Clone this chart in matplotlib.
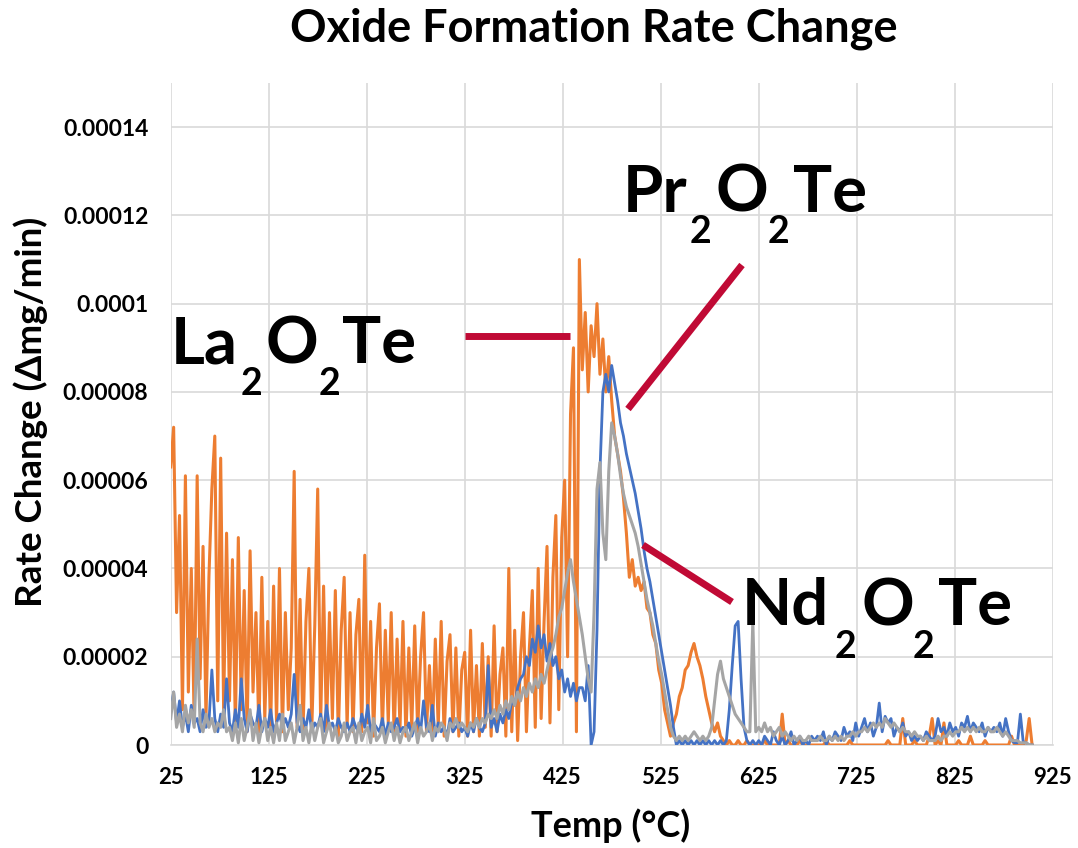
import numpy as np
import matplotlib
matplotlib.use('Agg')
import matplotlib.pyplot as plt
from matplotlib.lines import Line2D

plt.rcParams['font.family'] = ['Lato', 'DejaVu Sans']
plt.rcParams['font.weight'] = 'bold'

W, H = 1078, 848

# temperature of each reading (deg C), one every 3 degrees
temps = np.arange(25, 905, 3)

# rate change readings, in units of 1e-6 mg/min
la_rate = [
    63, 72, 30, 52, 8, 61, 12, 40, 5, 61, 15, 45, 6, 38, 58, 70, 10, 65, 8, 48,
    10, 42, 4, 47, 8, 35, 3, 44, 12, 30, 3, 38, 6, 28, 4, 36, 5, 40, 3, 30,
    8, 22, 62, 4, 33, 3, 28, 40, 4, 27, 58, 5, 36, 3, 30, 6, 35, 2, 26, 38,
    4, 30, 3, 25, 33, 3, 43, 5, 28, 2, 22, 32, 3, 26, 5, 30, 2, 24, 4, 28,
    2, 22, 4, 27, 3, 20, 30, 3, 18, 2, 24, 4, 28, 2, 19, 25, 3, 22, 2, 17,
    21, 2, 26, 3, 18, 2, 23, 4, 20, 2, 27, 3, 16, 22, 2, 40, 3, 26, 1, 20,
    30, 3, 22, 35, 4, 40, 6, 28, 45, 5, 38, 52, 8, 47, 60, 20, 75, 90, 3, 110,
    85, 98, 80, 95, 88, 100, 84, 92, 80, 88, 78, 70, 66, 62, 56, 48, 38, 42, 36, 38,
    35, 37, 31, 30, 25, 23, 17, 14, 8, 5, 2, 5, 7, 11, 13, 17, 18, 21, 23, 20,
    18, 15, 11, 8, 5, 3, 5, 2, 1, 0, 1, 0, 0, 1, 0, 0, 1, 0, 0, 0,
    0, 0, 1, 0, 0, 0, 0, 0, 7, 0, 1, 0, 0, 0, 1, 0, 0, 0, 0, 0,
    0, 0, 0, 1, 0, 0, 0, 0, 0, 0, 0, 1, 0, 0, 0, 0, 0, 0, 0, 0,
    0, 0, 0, 0, 1, 0, 0, 0, 0, 6, 0, 0, 0, 1, 0, 0, 0, 0, 2, 6,
    0, 1, 0, 5, 0, 0, 0, 0, 1, 0, 0, 0, 2, 0, 0, 0, 0, 1, 0, 0,
    0, 0, 0, 0, 0, 0, 2, 0, 0, 0, 0, 1, 6, 0,
]

pr_rate = [
    8, 12, 5, 10, 4, 7, 3, 9, 5, 6, 3, 8, 4, 5, 17, 6, 3, 7, 4, 15,
    5, 3, 8, 4, 15, 6, 3, 7, 5, 4, 9, 3, 6, 4, 8, 3, 5, 7, 4, 6,
    4, 7, 16, 5, 3, 6, 4, 8, 3, 5, 4, 7, 3, 9, 4, 5, 3, 6, 4, 3,
    5, 3, 6, 4, 3, 7, 4, 9, 3, 5, 4, 3, 6, 2, 5, 3, 4, 6, 3, 4,
    3, 5, 2, 4, 6, 3, 10, 4, 3, 9, 2, 5, 3, 4, 2, 6, 3, 4, 5, 3,
    4, 2, 5, 3, 6, 4, 3, 5, 18, 4, 6, 3, 7, 5, 8, 6, 10, 9, 13, 15,
    16, 20, 18, 24, 21, 27, 22, 25, 19, 23, 18, 20, 15, 17, 12, 15, 11, 14, 10, 13,
    13, 10, 18, 0, 3, 26, 62, 80, 84, 80, 86, 82, 78, 73, 70, 66, 63, 60, 57, 53,
    49, 44, 40, 37, 33, 29, 25, 21, 17, 13, 9, 4, 0, 1, 0, 1, 0, 1, 0, 1,
    0, 1, 0, 1, 0, 1, 0, 1, 0, 1, 8, 18, 27, 28, 15, 4, 1, 0, 1, 0,
    1, 0, 2, 1, 0, 3, 1, 0, 2, 0, 1, 3, 0, 1, 2, 0, 1, 0, 2, 1,
    2, 1, 3, 0, 2, 1, 3, 2, 1, 4, 2, 3, 1, 5, 2, 4, 6, 3, 5, 2,
    4, 9.5, 3, 6.5, 5, 6, 2, 4, 3, 5, 2, 3, 1, 2, 1, 2, 1, 3, 2, 1,
    2, 6, 3, 4, 2, 5, 3, 4, 2, 5, 4, 6.5, 3, 5, 4, 3, 5, 2, 4, 3,
    4, 3, 5, 2, 6, 3, 1, 0.5, 0.5, 7, 0.5, 0.5, 0, 0,
]

nd_rate = [
    6, 12, 4, 7, 3, 9, 5, 8, 4, 24, 5, 3, 7, 4, 6, 3, 5, 4, 8, 3,
    4, 1, 5, 0.5, 6, 1, 4, 8, 1, 5, 0.5, 4, 6, 1, 4, 0.5, 5, 1, 7, 1,
    3, 5, 0.5, 4, 9, 1, 4, 0.5, 5, 1, 4, 6, 0.5, 3, 5, 1, 4, 0.5, 2, 5,
    1, 3, 4, 0.5, 5, 1, 3, 4, 0.5, 6, 1, 2, 4, 0.5, 3, 5, 1, 4, 0.5, 3,
    4, 1, 3, 5, 0.5, 4, 2, 3, 5, 1, 4, 3, 5, 4, 1, 5, 4, 6, 4, 5,
    4, 3, 5, 4, 6, 4, 6, 5, 7, 6, 8, 6, 9, 7, 10, 8, 11, 9, 12, 10,
    13, 11, 14, 12, 15, 13, 16, 14, 17, 20, 22, 25, 29, 31, 35, 39, 42, 37, 33, 29,
    25, 20, 15, 12, 30, 58, 64, 48, 42, 62, 73, 70, 66, 61, 57, 54, 52, 50, 48, 45,
    41, 37, 33, 30, 27, 23, 19, 16, 12, 8, 4, 2, 1, 2, 1, 2, 1, 2, 3, 2,
    1, 2, 1, 2, 4, 10, 16, 19, 15, 13, 11, 9, 7, 6, 5, 4, 3, 3, 28, 3,
    4, 3, 5, 3, 4, 2, 3, 4, 2, 3, 2, 1, 2, 1, 2, 1, 1, 2, 1, 1,
    1, 2, 1, 1, 2, 1, 2, 1, 2, 1, 2, 2, 3, 2, 3, 3, 4, 3, 4, 5,
    4, 5, 4, 6, 5, 4, 5, 4, 3, 4, 3, 3, 2, 3, 2, 2, 1, 2, 1, 1,
    1, 2, 1, 2, 2, 3, 2, 3, 3, 4, 3, 4, 3, 4, 3, 4, 3, 3, 4, 3,
    3, 4, 3, 2, 3, 2, 1, 1, 1, 0.5, 0.5, 0.5, 0, 0,
]

x_ticks = [25, 125, 225, 325, 425, 525, 625, 725, 825, 925]
y_ticks = [0, 0.00002, 0.00004, 0.00006, 0.00008, 0.0001, 0.00012, 0.00014]
y_tick_labels = ['0', '0.00002', '0.00004', '0.00006', '0.00008', '0.0001', '0.00012', '0.00014']

fig = plt.figure(figsize=(W / 100, H / 100), dpi=100)
ax = fig.add_axes([170.7 / W, 1 - 745 / H, (1052.7 - 170.7) / W, (745 - 83) / H])

ax.plot(temps, np.array(la_rate) * 1e-6, color='#ED7D31', lw=2.2, zorder=3)
ax.plot(temps, np.array(pr_rate) * 1e-6, color='#4472C4', lw=2.0, zorder=4)
ax.plot(temps, np.array(nd_rate) * 1e-6, color='#A5A5A5', lw=2.2, zorder=5)

ax.set_xlim(25, 925)
ax.set_ylim(0, 0.00015)
ax.set_xticks(x_ticks)
ax.set_xticklabels([str(t) for t in x_ticks])
ax.set_yticks(y_ticks)
ax.set_yticklabels(y_tick_labels)
ax.tick_params(axis='x', length=0, pad=16, labelsize=16)
ax.tick_params(axis='y', length=0, pad=16, labelsize=16.5)
ax.grid(True, color='#D9D9D9', lw=1.2)
ax.set_axisbelow(True)
for side in ['top', 'right', 'left']:
    ax.spines[side].set_visible(False)
ax.spines['bottom'].set_color('#D9D9D9')
ax.spines['bottom'].set_linewidth(1.2)

fig.text(594 / W, 1 - 29 / H, 'Oxide Formation Rate Change', fontsize=32.5,
         fontweight='bold', ha='center', va='center')
fig.text(611 / W, 1 - 826 / H, 'Temp (°C)', fontsize=26, fontweight='bold',
         ha='center', va='center')
fig.text(31 / W, 1 - 412 / H, 'Rate Change (Δmg/min)', fontsize=26.5, fontweight='bold',
         ha='center', va='center', rotation=90)

# compound labels, pieces placed on the picture (pixel x, baseline y, size)
big, sub = 47, 27
labels = [
    [('La', 171, 363, big), ('2', 241, 395, sub), ('O', 266, 363, big),
     ('2', 319, 395, sub), ('Te', 342, 363, big)],
    [('Pr', 623, 212, big), ('2', 690, 243, sub), ('O', 715, 212, big),
     ('2', 768, 243, sub), ('Te', 793, 212, big)],
    [('Nd', 742, 625, big), ('2', 835, 658, sub), ('O', 861, 625, big),
     ('2', 913, 658, sub), ('Te', 938, 625, big)],
]
for pieces in labels:
    for s, px, py, size in pieces:
        fig.text(px / W, 1 - py / H, s, fontsize=size, fontweight='bold',
                 ha='left', va='baseline', zorder=10)

red = '#C00A35'
leaders = [((465, 336), (570, 336)), ((742, 265), (628, 409)), ((643, 545), (732, 602))]
for (x0, y0), (x1, y1) in leaders:
    fig.add_artist(Line2D([x0 / W, x1 / W], [1 - y0 / H, 1 - y1 / H],
                          transform=fig.transFigure, color=red, lw=5,
                          solid_capstyle='butt', zorder=10))

fig.savefig('out.png', dpi=100)
